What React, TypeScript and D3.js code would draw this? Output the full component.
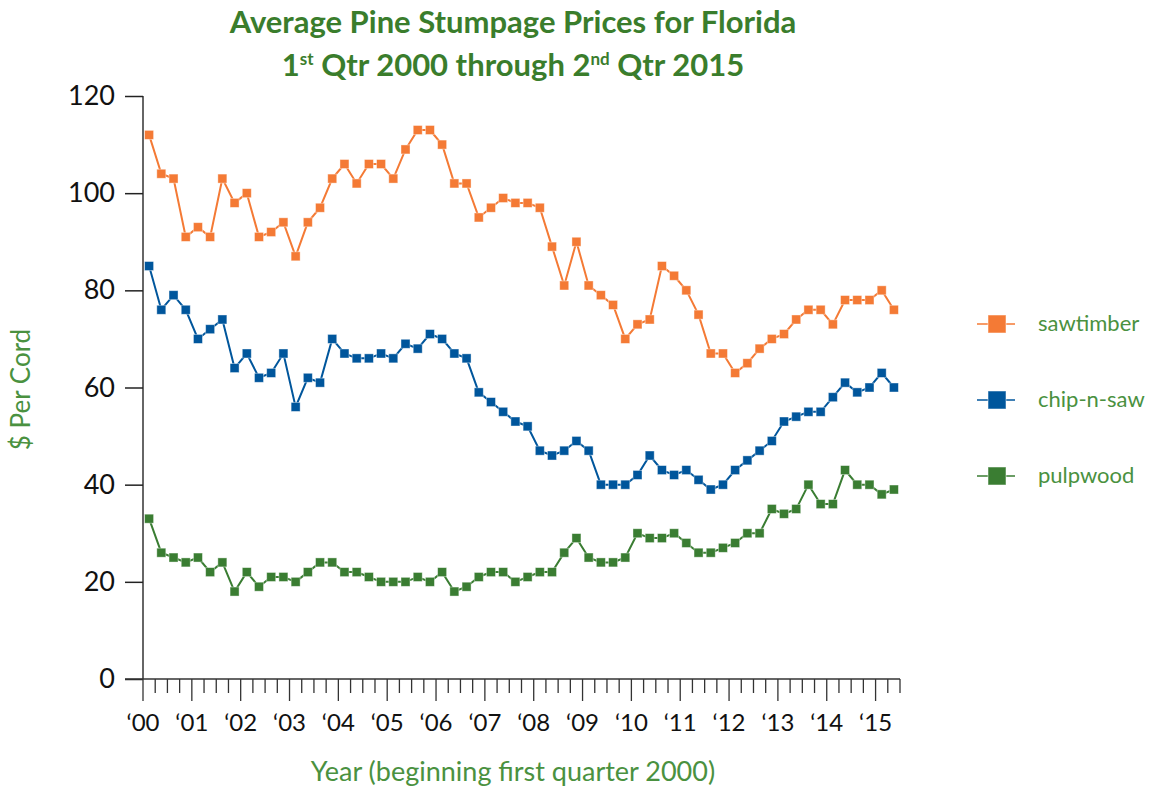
import { useEffect, useRef } from 'react';
import * as d3 from 'd3';

const years = ['00', '01', '02', '03', '04', '05', '06', '07', '08', '09', '10', '11', '12', '13', '14', '15'];
const quarters = d3.range(62).map(i => `${2000 + Math.floor(i / 4)}Q${(i % 4) + 1}`);

const sawtimber = [112, 104, 103, 91, 93, 91, 103, 98, 100, 91, 92, 94, 87, 94, 97, 103, 106, 102, 106, 106, 103, 109, 113, 113, 110, 102, 102, 95, 97, 99, 98, 98, 97, 89, 81, 90, 81, 79, 77, 70, 73, 74, 85, 83, 80, 75, 67, 67, 63, 65, 68, 70, 71, 74, 76, 76, 73, 78, 78, 78, 80, 76];
const chipNSaw = [85, 76, 79, 76, 70, 72, 74, 64, 67, 62, 63, 67, 56, 62, 61, 70, 67, 66, 66, 67, 66, 69, 68, 71, 70, 67, 66, 59, 57, 55, 53, 52, 47, 46, 47, 49, 47, 40, 40, 40, 42, 46, 43, 42, 43, 41, 39, 40, 43, 45, 47, 49, 53, 54, 55, 55, 58, 61, 59, 60, 63, 60];
const pulpwood = [33, 26, 25, 24, 25, 22, 24, 18, 22, 19, 21, 21, 20, 22, 24, 24, 22, 22, 21, 20, 20, 20, 21, 20, 22, 18, 19, 21, 22, 22, 20, 21, 22, 22, 26, 29, 25, 24, 24, 25, 30, 29, 29, 30, 28, 26, 26, 27, 28, 30, 30, 35, 34, 35, 40, 36, 36, 43, 40, 40, 38, 39];

const yTicks = [0, 20, 40, 60, 80, 100, 120];

const series = [
  { name: 'sawtimber', values: sawtimber, color: '#f47a35' },
  { name: 'chip-n-saw', values: chipNSaw, color: '#00569c' },
  { name: 'pulpwood', values: pulpwood, color: '#3a7d32' },
];

const W = 1168;
const H = 786;
const FONT = 'Lato, "Open Sans", sans-serif';

export default function App() {
  const svgRef = useRef<SVGSVGElement>(null);

  useEffect(() => {
    document.body.style.margin = '0';
    if (!svgRef.current) return;

    const svg = d3.select(svgRef.current);
    svg.selectAll('*').remove();

    const margin = { top: 96, left: 143, right: 268, bottom: 107 };
    const x = d3.scaleBand()
      .domain(quarters)
      .range([margin.left, W - margin.right]);
    const y = d3.scaleLinear()
      .domain([0, 120])
      .range([H - margin.bottom, margin.top]);
    const x0 = x.range()[0];
    const y0 = y(0);

    // title
    svg.append('text')
      .attr('x', 513)
      .attr('y', 33)
      .attr('text-anchor', 'middle')
      .style('font-family', FONT)
      .style('font-weight', 700)
      .style('font-size', '31px')
      .style('fill', '#3a7d2c')
      .text('Average Pine Stumpage Prices for Florida');
    const line2 = svg.append('text')
      .attr('x', 513)
      .attr('y', 76)
      .attr('text-anchor', 'middle')
      .style('font-family', FONT)
      .style('font-weight', 700)
      .style('font-size', '31px')
      .style('fill', '#3a7d2c');
    line2.append('tspan').text('1');
    line2.append('tspan').attr('dy', -11).style('font-size', '17px').text('st');
    line2.append('tspan').attr('dy', 11).text(' Qtr 2000 through 2');
    line2.append('tspan').attr('dy', -11).style('font-size', '17px').text('nd');
    line2.append('tspan').attr('dy', 11).text(' Qtr 2015');

    // y axis
    const yAxis = svg.append('g')
      .attr('transform', `translate(${x0},0)`)
      .call(d3.axisLeft(y).tickValues(yTicks).tickSize(18).tickPadding(10));
    yAxis.select('.domain').attr('stroke', '#333').attr('stroke-width', 1.5).attr('d', `M0,${y(120)}V${y0}`);
    yAxis.selectAll('.tick line').attr('stroke', '#222').attr('stroke-width', 1.5);
    yAxis.selectAll('.tick text')
      .style('font-family', FONT)
      .style('font-size', '27px')
      .style('fill', '#111');

    // x axis
    const bw = x.bandwidth();
    const tickPos = d3.range(63).map(i => x0 + i * bw);
    svg.append('line')
      .attr('x1', x0 - 18)
      .attr('x2', x.range()[1])
      .attr('y1', y0)
      .attr('y2', y0)
      .attr('stroke', '#333')
      .attr('stroke-width', 1.5);
    svg.append('g')
      .selectAll('line')
      .data(tickPos)
      .join('line')
      .attr('x1', d => d)
      .attr('x2', d => d)
      .attr('y1', y0)
      .attr('y2', (d, i) => y0 + (i % 4 === 0 ? 22 : 14))
      .attr('stroke', '#333')
      .attr('stroke-width', 1.3);
    svg.append('g')
      .selectAll('text')
      .data(years)
      .join('text')
      .attr('x', (d, i) => x0 + i * 4 * bw)
      .attr('y', y0 + 52)
      .attr('text-anchor', 'middle')
      .style('font-family', FONT)
      .style('font-size', '24px')
      .style('fill', '#111')
      .text(d => `\u2018${d}`);

    // axis titles
    svg.append('text')
      .attr('transform', `translate(30,${(y(120) + y0) / 2 + 2}) rotate(-90)`)
      .attr('text-anchor', 'middle')
      .style('font-family', FONT)
      .style('font-size', '26px')
      .style('fill', '#4a9140')
      .text('$ Per Cord');
    svg.append('text')
      .attr('x', 513)
      .attr('y', 781)
      .attr('text-anchor', 'middle')
      .style('font-family', FONT)
      .style('font-size', '27px')
      .style('fill', '#4a9140')
      .text('Year (beginning first quarter 2000)');

    // lines and markers
    const line = d3.line<number>()
      .x((d, i) => (x(quarters[i]) || 0) + bw / 2)
      .y(d => y(d));

    series.forEach(s => {
      svg.append('path')
        .datum(s.values)
        .attr('d', line)
        .attr('fill', 'none')
        .attr('stroke', s.color)
        .attr('stroke-width', 2);
      svg.append('g')
        .selectAll('rect')
        .data(s.values)
        .join('rect')
        .attr('x', (d, i) => (x(quarters[i]) || 0) + bw / 2 - 4.5)
        .attr('y', d => y(d) - 4.5)
        .attr('width', 9)
        .attr('height', 9)
        .attr('fill', s.color)
        .attr('stroke', '#fff')
        .attr('stroke-opacity', 0.5)
        .attr('stroke-width', 0.8);
    });

    // legend
    const legend = svg.append('g');
    series.forEach((s, i) => {
      const ly = 324 + i * 76;
      legend.append('line')
        .attr('x1', 977).attr('x2', 1015)
        .attr('y1', ly).attr('y2', ly)
        .attr('stroke', s.color)
        .attr('stroke-width', 1.5);
      legend.append('rect')
        .attr('x', 988).attr('y', ly - 9)
        .attr('width', 18).attr('height', 18)
        .attr('fill', s.color)
        .attr('stroke', '#fff')
        .attr('stroke-opacity', 0.5);
      legend.append('text')
        .attr('x', 1038)
        .attr('y', ly + 7)
        .style('font-family', FONT)
        .style('font-size', '22px')
        .style('fill', '#4a9140')
        .text(s.name);
    });
  }, []);

  return <svg ref={svgRef} width={W} height={H} style={{ display: 'block' }} />;
}
